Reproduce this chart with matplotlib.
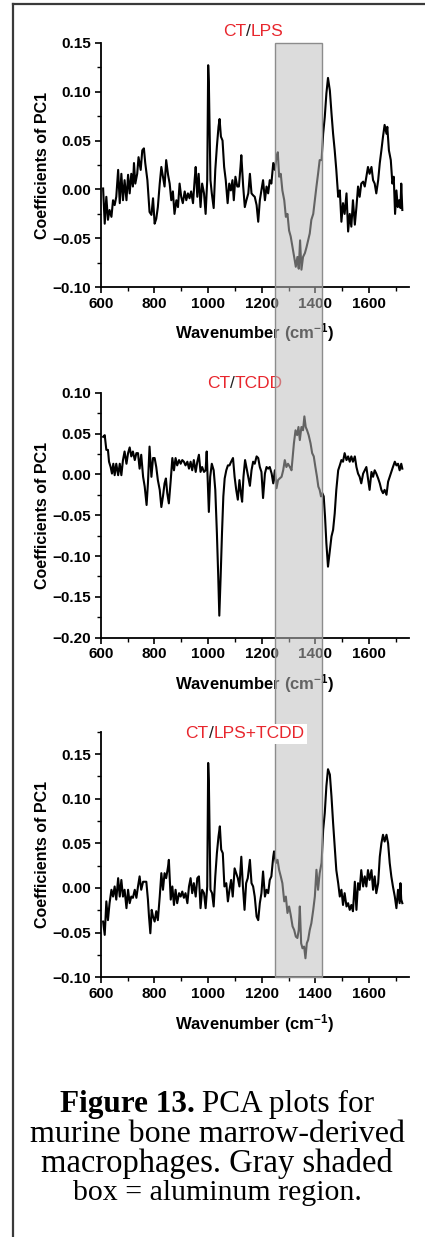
import matplotlib
matplotlib.use('Agg')
import matplotlib.pyplot as plt
import numpy as np
from matplotlib.patches import Rectangle
from matplotlib.lines import Line2D
from matplotlib.transforms import blended_transform_factory
from matplotlib.offsetbox import TextArea, HPacker, AnnotationBbox
from matplotlib.ticker import MultipleLocator

""" PC1 loadings read off the three panels """
wn_lps = [609, 615, 621, 627, 633, 640, 646, 652, 658, 665, 671, 677, 683, 689, 696, 702, 708, 714, 720, 724,
          729, 736, 741, 749, 755, 761, 766, 774, 782, 789, 795, 801, 807, 813, 820, 826, 832, 838, 844, 851,
          857, 863, 869, 875, 882, 888, 894, 900, 906, 913, 919, 925, 931, 937, 944, 950, 954, 960, 965, 972,
          978, 985, 991, 997, 1000.5, 1003, 1009, 1014, 1021, 1027, 1033, 1039, 1043, 1048, 1054, 1060, 1066, 1073,
          1079, 1085, 1091, 1096, 1102, 1109, 1115, 1121, 1124, 1131, 1137, 1143, 1150,
          1156, 1162, 1168, 1174, 1181, 1187, 1193, 1199, 1205, 1212, 1218, 1224, 1230, 1236, 1243, 1249, 1255, 1260,
          1265, 1271, 1277, 1284, 1290, 1296, 1302, 1308, 1315, 1321, 1327, 1333, 1338, 1343, 1348, 1354, 1361, 1367,
          1373, 1379, 1385, 1392, 1398, 1404, 1410, 1416, 1423, 1429, 1435, 1441, 1447, 1454, 1460, 1466, 1472, 1478,
          1485, 1491, 1497, 1503, 1509, 1516, 1522, 1528, 1534, 1540, 1547, 1553, 1559, 1565, 1571, 1578, 1584, 1590,
          1596, 1602, 1609, 1615, 1621, 1627, 1634, 1640, 1646, 1652, 1658, 1665, 1668, 1674, 1681, 1687, 1692, 1697,
          1702, 1707, 1712, 1717, 1720, 1724]
pc1_lps = [0.001, -0.035, -0.0075, -0.031, -0.021, -0.028, -0.011, -0.016, -0.0075, 0.020, -0.014, 0.016, -0.011, 0.0095,
           -0.011, 0.015, -0.004, 0.016, 0.003, 0.027, 0.006, 0.016, 0.033, 0.020, 0.040, 0.042, 0.027, 0.0095, -0.023,
           -0.026, -0.009, -0.035, -0.030, -0.018, 0.006, 0.023, 0.013, 0.003, 0.030, 0.015, 0.006, -0.011, -0.002,
           -0.025, -0.011, -0.018, 0.006, -0.0075, -0.014, -0.002, -0.011, -0.004, -0.009, -0.002, -0.014, 0.0095,
           0.023, -0.0075, 0.016, -0.018, 0.006, -0.004, -0.025, 0.0095, 0.127, 0.110, 0.0095, -0.004, -0.019, 0.020,
           0.044, 0.064, 0.072, 0.054, 0.050, 0.023, 0.0095, -0.014, 0.006, -0.001, 0.0095, -0.011, 0.013, 0.003,
           0.003, 0.023, 0.035, 0.003, -0.018, -0.011, -0.004,
           0.016, -0.004, -0.006, -0.0075, -0.016, -0.033, -0.011, -0.001, 0.0095, -0.011, 0.003, -0.004, 0.0095,
           0.006, 0.027, 0.020, 0.033, 0.038, 0.013, 0.016, -0.001, -0.011, -0.028, -0.025, -0.042, -0.048, -0.059,
           -0.069, -0.079, -0.069, -0.081, -0.052, -0.082, -0.069, -0.065, -0.059, -0.052, -0.045, -0.031, -0.025,
           -0.011, 0.003, 0.016, 0.030, 0.030, 0.057, 0.074, 0.098, 0.114, 0.101, 0.078, 0.057, 0.040, 0.020,
           -0.0075, -0.001, -0.033, -0.014, -0.025, -0.004, -0.043, -0.025, -0.038, -0.011, -0.036, -0.018, 0.003,
           -0.0075, 0.006, 0.008, 0.003, 0.013, 0.023, 0.016, 0.023, 0.0095, 0.006, -0.004, 0.0095, 0.027, 0.040,
           0.054, 0.066, 0.057, 0.064, 0.040, 0.030, 0.006, 0.013, -0.025, -0.001, -0.018, -0.011, -0.019, 0.006,
           -0.021]

wn_tcdd = [609, 615, 621, 627, 631, 637, 642, 647, 652, 658, 665, 671, 677, 683, 689, 696, 702, 708, 714, 720,
           727, 733, 739, 745, 751, 758, 764, 771, 776, 782, 789, 795, 801, 807, 813, 820, 826, 832, 838, 843,
           848, 854, 861, 867, 873, 879, 885, 892, 898, 904, 910, 916, 923, 929, 935, 941, 947, 954, 960, 966,
           972, 978, 985, 991, 995, 1000, 1003, 1008, 1014, 1021, 1027, 1033, 1038, 1042, 1047, 1052, 1057, 1062,
           1068, 1074, 1080, 1086, 1093, 1099, 1105, 1111, 1117, 1124, 1127, 1132, 1138, 1144, 1150,
           1156, 1162, 1168, 1174, 1181, 1187, 1193, 1199, 1205, 1212, 1218, 1224, 1230, 1237, 1243, 1249, 1255, 1261,
           1267, 1274, 1280, 1286, 1292, 1298, 1305, 1311, 1315, 1320, 1326, 1332, 1337, 1342, 1348, 1354, 1359, 1364,
           1369, 1375, 1382, 1388, 1394, 1400, 1406, 1411, 1416, 1421, 1426, 1431, 1436, 1441, 1447, 1454, 1460, 1466,
           1472, 1478, 1485, 1491, 1497, 1503, 1509, 1516, 1522, 1528, 1534, 1540, 1547, 1553, 1559, 1565, 1571, 1578,
           1584, 1590, 1596, 1602, 1609, 1615, 1621, 1627, 1634, 1640, 1646, 1652, 1658, 1665, 1671, 1677, 1683, 1689,
           1696, 1702, 1708, 1714, 1720, 1724]
pc1_tcdd = [0.046, 0.048, 0.030, 0.030, 0.0155, 0.009, 0.001, 0.013, -0.001, 0.013, -0.001, 0.013, -0.001, 0.0175,
            0.028, 0.013, 0.026, 0.033, 0.022, 0.028, 0.0175, 0.026, 0.026, 0.007, 0.024, -0.003, -0.015, -0.0375,
            -0.011, 0.034, -0.003, 0.020, 0.020, 0.009, -0.007, -0.019, -0.040, -0.027, -0.011, -0.005, -0.023,
            -0.0355, -0.007, 0.020, 0.005, 0.020, 0.011, 0.0175, 0.013, 0.0175, 0.0155, 0.011, 0.0155, 0.007, 0.0155,
            0.005, 0.0175, 0.003, 0.0155, 0.024, 0.003, 0.009, 0.003, 0.005, 0.028, -0.019, -0.046, -0.003, 0.013,
            0.005, -0.019, -0.072, -0.125, -0.173, -0.125, -0.072, -0.027, -0.005, 0.005, 0.011, 0.011, 0.0155, 0.020,
            -0.003, -0.019, -0.031, -0.007, -0.027, -0.0335, -0.003, 0.0175, 0.007, -0.003,
            -0.014, 0.005, 0.0155, 0.013, 0.022, 0.020, 0.009, 0.003, -0.029, 0.001, 0.009, 0.007, 0.009, 0.001,
            -0.011, 0.005, -0.017, -0.007, -0.005, -0.003, 0.005, 0.0175, 0.009, 0.013, 0.009, 0.005, 0.020, 0.038,
            0.054, 0.048, 0.058, 0.042, 0.058, 0.054, 0.071, 0.058, 0.054, 0.048, 0.038, 0.026, 0.022, 0.009, -0.003,
            -0.015, -0.019, -0.027, -0.023, -0.027, -0.052, -0.0845, -0.113, -0.093, -0.076, -0.068, -0.048, -0.019,
            0.005, 0.011, 0.0175, 0.0155, 0.026, 0.0175, 0.022, 0.0155, 0.022, 0.0155, 0.022, 0.009, 0.001, -0.003,
            -0.011, 0.001, 0.005, 0.009, -0.005, -0.019, 0.003, -0.003, 0.005, 0.001, -0.005, -0.011, -0.019, -0.023,
            -0.019, -0.025, -0.009, -0.003, 0.003, 0.009, 0.0155, 0.011, 0.013, 0.005, 0.013, 0.007]

wn_lps_tcdd = [609, 615, 621, 627, 633, 640, 646, 652, 658, 665, 671, 677, 683, 689, 696, 702, 708, 714, 720, 727,
               733, 739, 745, 751, 758, 764, 770, 776, 780, 785, 790, 795, 801, 807, 813, 820, 826, 832, 838, 844,
               851, 854, 861, 867, 873, 879, 885, 892, 898, 904, 910, 916, 923, 929, 935, 941, 947, 954, 960, 966,
               972, 978, 985, 991, 997, 1000.5, 1003, 1009, 1015, 1021, 1027, 1033, 1039, 1044, 1049, 1055, 1061, 1068,
               1074, 1080, 1086, 1092, 1099, 1105, 1111, 1117, 1124, 1130, 1136, 1142, 1148,
               1156, 1162, 1168, 1174, 1181, 1187, 1193, 1199, 1205, 1212, 1218, 1224, 1230, 1236, 1243, 1246, 1253, 1259,
               1265, 1271, 1277, 1284, 1290, 1296, 1302, 1308, 1315, 1321, 1327, 1333, 1338, 1342, 1347, 1352, 1358, 1363,
               1368, 1373, 1379, 1385, 1392, 1398, 1404, 1410, 1416, 1423, 1429, 1435, 1441, 1447, 1454, 1460, 1466, 1472,
               1478, 1485, 1491, 1497, 1503, 1509, 1516, 1522, 1528, 1534, 1540, 1547, 1553, 1559, 1565, 1571, 1578, 1584,
               1590, 1596, 1602, 1609, 1615, 1621, 1627, 1634, 1640, 1646, 1652, 1658, 1665, 1671, 1677, 1683, 1689, 1696,
               1702, 1708, 1714, 1717, 1720, 1724]
pc1_lps_tcdd = [-0.0376, -0.0525, -0.015, -0.036, -0.017, -0.002, -0.0096, 0.0017, -0.013, 0.011, -0.0096, 0.009,
                -0.0096, -0.002, -0.0226, -0.002, -0.017, -0.0096, -0.011, -0.002, -0.011, 0.0017, 0.013, -0.002,
                0.007, 0.007, 0.007, -0.013, -0.032, -0.0507, -0.0245, -0.032, -0.0376, -0.026, -0.036, -0.0096,
                0.0166, -0.002, 0.0166, 0.011, 0.024, 0.0315, -0.013, 0.0017, -0.019, -0.002, -0.017, -0.0058,
                -0.0096, -0.004, -0.011, -0.0058, -0.017, 0.0017, 0.011, -0.0058, 0.0054, -0.0096, 0.011, 0.013,
                -0.0226, -0.002, -0.0058, -0.0226, 0.0017, 0.140, 0.120, -0.002, -0.0058, -0.0207, 0.013, 0.039,
                0.0577, 0.069, 0.043, 0.039, 0.0017, 0.0054, -0.015, -0.002, 0.009, -0.0096, 0.022, 0.0166, 0.011,
                0.0017, 0.035, 0.0017, -0.0245, 0.0054, 0.011,
                0.0315, 0.0054, 0.0017, -0.0096, -0.032, -0.036, -0.017, -0.0058, 0.0185, -0.0096, -0.002, -0.0058,
                0.009, 0.013, 0.035, 0.041, 0.028, 0.0315, 0.020, 0.013, 0.0054, -0.015, -0.0096, -0.028, -0.0207,
                -0.030, -0.043, -0.047, -0.0544, -0.056, -0.047, -0.0207, -0.0619, -0.0675, -0.0656, -0.0787, -0.0619,
                -0.058, -0.047, -0.0395, -0.0245, -0.0096, 0.0204, -0.002, 0.0166, 0.028, 0.065, 0.084, 0.114, 0.133,
                0.127, 0.1025, 0.073, 0.0465, 0.020, 0.0054, -0.0096, -0.002, -0.019, -0.0058, -0.0207, -0.017,
                -0.0245, -0.019, -0.026, 0.007, -0.0245, 0.0054, -0.002, 0.020, 0.0017, 0.013, 0.0017, 0.020, 0.009,
                0.020, -0.002, 0.013, -0.0058, 0.0054, 0.035, 0.050, 0.0596, 0.052, 0.0596, 0.050, 0.028, 0.013,
                0.0017, -0.0096, -0.0226, -0.002, -0.017, 0.0054, -0.013, -0.017]

titles = [('CT', '/', 'LPS'), ('CT', '/', 'TCDD'), ('CT', '/', 'LPS+TCDD')]
ylims = [(-0.10, 0.15), (-0.20, 0.10), (-0.10, 0.175)]
yticks = [[-0.10, -0.05, 0.00, 0.05, 0.10, 0.15],
          [-0.20, -0.15, -0.10, -0.05, 0.00, 0.05, 0.10],
          [-0.10, -0.05, 0.00, 0.05, 0.10, 0.15]]
xticks = [600, 800, 1000, 1200, 1400, 1600]
al_region = (1250, 1425)   # gray shaded aluminum region

caption = ['murine bone marrow-derived', 'macrophages. Gray shaded', 'box = aluminum region.']

plt.rcParams['font.family'] = 'Liberation Sans'
plt.rcParams['font.weight'] = 'bold'
plt.rcParams['axes.labelweight'] = 'bold'
plt.rcParams['mathtext.fontset'] = 'custom'
plt.rcParams['mathtext.bf'] = 'Liberation Sans:bold'
plt.rcParams['mathtext.rm'] = 'Liberation Sans:bold'
plt.rcParams['mathtext.default'] = 'bf'

W, H = 425, 1237
fig = plt.figure(figsize=(W / 100.0, H / 100.0), dpi=100)

# axes boxes in pixels: left, right, top, bottom
boxes = [(100.7, 409.3, 42.7, 287.3), (100.7, 409.3, 392.7, 637.7), (100.7, 409.3, 731.7, 977.3)]
title_pos = [(0.494, 1.044), (0.468, 1.036), (0.468, 0.991)]
series = [(wn_lps, pc1_lps), (wn_tcdd, pc1_tcdd), (wn_lps_tcdd, pc1_lps_tcdd)]
red = '#e8262d'

axes = []
for i in range(3):
	l, r, t, b = boxes[i]
	ax = fig.add_axes([l / W, 1 - b / H, (r - l) / W, (b - t) / H])
	ax.patch.set_visible(False)
	ax.plot(series[i][0], series[i][1], color='black', lw=1.5)
	ax.set_xlim(600, 1750)
	ax.set_ylim(*ylims[i])
	ax.set_xticks(xticks)
	ax.set_yticks(yticks[i])
	ax.xaxis.set_minor_locator(MultipleLocator(100))
	ax.yaxis.set_minor_locator(MultipleLocator(0.025))
	for s in ['top', 'right']:
		ax.spines[s].set_visible(False)
	for s in ['left', 'bottom']:
		ax.spines[s].set_linewidth(1.3)
	ax.tick_params(which='major', direction='out', length=4, width=1.2, labelsize=11, pad=3)
	ax.tick_params(which='minor', direction='out', length=3, width=1.0)
	ax.set_xlabel('Wavenumber (cm$^{-1}$)', fontsize=12)
	ax.set_ylabel('Coefficients of PC1', fontsize=11.5)
	ax.xaxis.set_label_coords(0.5, -0.187)
	ax.xaxis.label.set_va('center')
	ax.yaxis.set_label_coords(-0.19, 0.5)
	ax.yaxis.label.set_va('center')
	axes.append(ax)

	parts = titles[i]
	areas = [TextArea(parts[0], textprops=dict(color=red, fontsize=12.5, fontweight='normal')),
			 TextArea(parts[1], textprops=dict(color='#222222', fontsize=12.5, fontweight='normal')),
			 TextArea(parts[2], textprops=dict(color=red, fontsize=12.5, fontweight='normal'))]
	pack = HPacker(children=areas, align='baseline', pad=0, sep=0)
	ab = AnnotationBbox(pack, title_pos[i], xycoords=ax.transAxes, box_alignment=(0.5, 0.5),
						frameon=(i == 2), pad=0.2, annotation_clip=False)
	if i == 2:
		ab.patch.set_facecolor('white')
		ab.patch.set_edgecolor('none')
		ab.set_zorder(3)
	else:
		ab.set_zorder(0.5)
	fig.add_artist(ab)

# gray box spanning all three panels
trans = blended_transform_factory(axes[0].transData, fig.transFigure)
rect = Rectangle((al_region[0], 1 - 977.3 / H), al_region[1] - al_region[0], (977.3 - 42.7) / H,
				 transform=trans, facecolor=(189 / 255., 189 / 255., 189 / 255., 0.53),
				 edgecolor=(0.55, 0.55, 0.55), lw=1.0, zorder=1)
fig.add_artist(rect)

# page frame
fig.add_artist(Line2D([12.5 / W, 12.5 / W], [0, 1 - 4 / H], transform=fig.transFigure, color='#3a3a3a', lw=1.6))
fig.add_artist(Line2D([12.5 / W, 1], [1 - 4 / H, 1 - 4 / H], transform=fig.transFigure, color='#3a3a3a', lw=1.6))

# caption
cx = 217 / W
cap_font = 'Liberation Serif'
line1 = HPacker(children=[TextArea('Figure 13.', textprops=dict(family=cap_font, fontsize=22.5, fontweight='bold')),
						  TextArea(' PCA plots for', textprops=dict(family=cap_font, fontsize=22.5, fontweight='normal'))],
				align='baseline', pad=0, sep=0)
fig.add_artist(AnnotationBbox(line1, (cx, 1 - 1104.5 / H), xycoords='figure fraction',
							  box_alignment=(0.5, 0.5), frameon=False, pad=0))
cy = [1134, 1163.5, 1193]
cap_size = [23, 23.5, 21.5]
for k in range(len(caption)):
	fig.text(cx, 1 - cy[k] / H, caption[k], family=cap_font, fontsize=cap_size[k], fontweight='normal',
			 ha='center', va='center')

fig.savefig('out.png', dpi=100)
